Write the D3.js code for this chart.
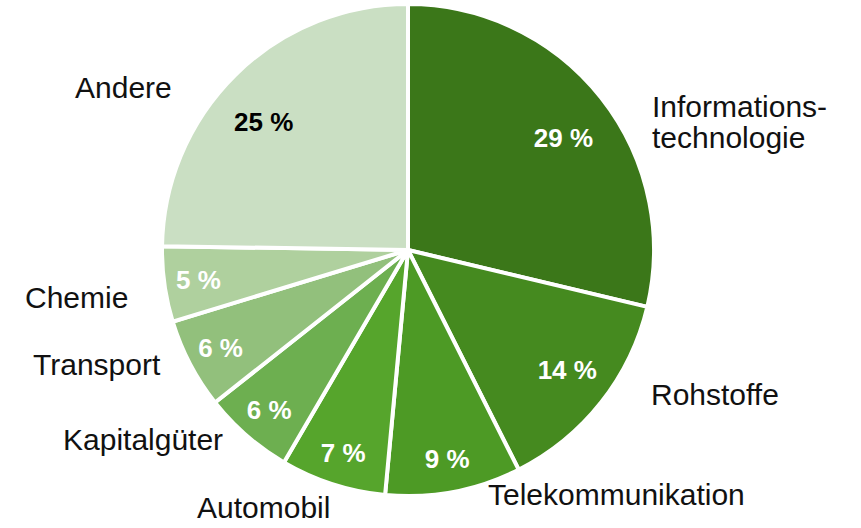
<!DOCTYPE html>
<html>
<head>
<meta charset="utf-8">
<script src="https://cdn.jsdelivr.net/npm/d3@7"></script>
<style>
  html, body { margin: 0; padding: 0; background: #ffffff; }
  svg { display: block; }
</style>
</head>
<body>
<svg id="chart" width="861" height="528"></svg>
<script>
// ---- data ----
const categories = ["Informationstechnologie", "Rohstoffe", "Telekommunikation", "Automobil",
                    "Kapitalgüter", "Transport", "Chemie", "Andere"];
const labelLines = [["Informations-", "technologie"], ["Rohstoffe"], ["Telekommunikation"], ["Automobil"],
                    ["Kapitalgüter"], ["Transport"], ["Chemie"], ["Andere"]];
const values = [29, 14, 9, 7, 6, 6, 5, 25];
const valueLabels = ["29 %", "14 %", "9 %", "7 %", "6 %", "6 %", "5 %", "25 %"];
const colors = ["#3b7719", "#458a1f", "#4d9a25", "#56a52c", "#6daf50", "#92c07c", "#afd09e", "#cadfc3"];
const valueLabelColors = ["#ffffff", "#ffffff", "#ffffff", "#ffffff", "#ffffff", "#ffffff", "#ffffff", "#000000"];

// ---- layout ----
const cx = 408, cy = 250, R = 246;
// outer label placement (left x, first baseline)
const outerLabelPos = [
  {x: 652, y: 117}, {x: 651, y: 405}, {x: 488, y: 505}, {x: 197, y: 518},
  {x: 63,  y: 450}, {x: 33,  y: 375}, {x: 25,  y: 308}, {x: 75,  y: 98}
];
// small nudges of the inner value labels (layout only)
const valueNudge = [[3, 8], [1, -5], [0, 1], [0, 1], [0, 0], [0, 0], [0, 0], [-8, 10]];

const svg = d3.select("#chart");
const g = svg.append("g").attr("transform", `translate(${cx},${cy})`);

const pie = d3.pie().sort(null).value(d => d).startAngle(0).endAngle(2 * Math.PI);
const arcs = pie(values);
const arc = d3.arc().innerRadius(0).outerRadius(R);

g.selectAll("path.slice")
  .data(arcs)
  .enter().append("path")
  .attr("class", "slice")
  .attr("d", arc)
  .attr("fill", (d, i) => colors[i])
  .attr("stroke", "#ffffff")
  .attr("stroke-width", 4)
  .attr("stroke-linejoin", "miter");

g.selectAll("text.val")
  .data(arcs)
  .enter().append("text")
  .attr("class", "val")
  .attr("transform", (d, i) => {
    const a = (d.startAngle + d.endAngle) / 2;
    const rr = d.value >= 20 ? R * 0.79 : (d.value >= 10 ? R * 0.82 : R * 0.86);
    return `translate(${Math.sin(a) * rr + valueNudge[i][0]},${-Math.cos(a) * rr + valueNudge[i][1]})`;
  })
  .attr("text-anchor", "middle")
  .attr("dy", "0.36em")
  .attr("font-family", "'Liberation Sans', Arial, sans-serif")
  .attr("font-weight", "bold")
  .attr("font-size", 26)
  .attr("fill", (d, i) => valueLabelColors[i])
  .text((d, i) => valueLabels[i]);

categories.forEach((c, i) => {
  const p = outerLabelPos[i];
  const t = svg.append("text")
    .attr("x", p.x).attr("y", p.y)
    .attr("text-anchor", "start")
    .attr("font-family", "'Liberation Sans', Arial, sans-serif")
    .attr("font-size", 30)
    .attr("fill", "#111111");
  labelLines[i].forEach((line, j) => {
    t.append("tspan").attr("x", p.x).attr("dy", j === 0 ? 0 : 31).text(line);
  });
});
</script>
</body>
</html>
